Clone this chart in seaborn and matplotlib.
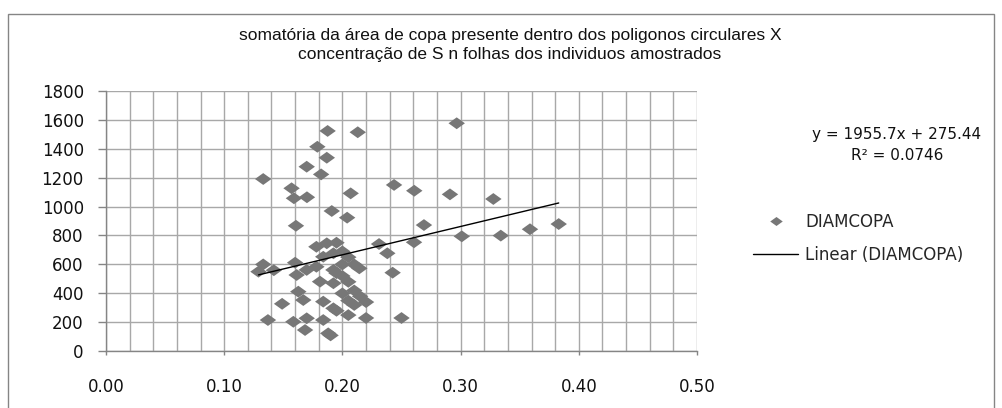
import matplotlib
matplotlib.use("Agg")
import matplotlib.pyplot as plt
from matplotlib.lines import Line2D
from matplotlib.patches import Rectangle
from matplotlib.path import Path
from matplotlib.ticker import MultipleLocator, FormatStrFormatter
import seaborn as sns
import pandas as pd
import numpy as np

# ---- data ----
conc_s = [0.133, 0.129, 0.133, 0.142, 0.149, 0.137, 0.1875, 0.1788, 0.1868, 0.1698,
          0.182, 0.157, 0.159, 0.170, 0.191, 0.1607, 0.213, 0.2437, 0.2608, 0.207,
          0.291, 0.204, 0.269, 0.301, 0.2606, 0.231, 0.238, 0.2143, 0.2425, 0.2967,
          0.3277, 0.334, 0.3587, 0.383, 0.160, 0.1613, 0.178, 0.1868, 0.1924, 0.1838,
          0.178, 0.1698, 0.1924, 0.1811, 0.1924, 0.1627, 0.1669, 0.1838, 0.1924, 0.1585,
          0.1698, 0.1684, 0.1838, 0.188,
          0.195, 0.200, 0.205, 0.200, 0.195, 0.210, 0.200, 0.205, 0.210, 0.200,
          0.215, 0.205, 0.220, 0.210, 0.205, 0.220, 0.250, 0.195, 0.190]
diamcopa = [1190, 550, 600, 560, 328, 216, 1522, 1413, 1337, 1275,
            1222, 1126, 1057, 1064, 969, 867, 1513, 1149, 1109, 1091,
            1084, 923, 872, 794, 753, 741, 677, 573, 543, 1575,
            1052, 799, 843, 879, 612, 527, 722, 746, 677, 653,
            584, 562, 562, 481, 470, 412, 354, 343, 297, 204,
            228, 147, 216, 124,
            750, 690, 650, 600, 540, 600, 520, 480, 420, 400,
            380, 350, 340, 320, 250, 230, 230, 280, 110]

slope = 1955.7
intercept = 275.44
r2 = 0.0746

title_lines = ["somatória da área de copa presente dentro dos poligonos circulares X",
               "concentração de S n folhas dos individuos amostrados"]
series_name = "DIAMCOPA"
trend_name = "Linear (DIAMCOPA)"
x_ticks = [0.0, 0.1, 0.2, 0.3, 0.4, 0.5]
y_ticks = [0, 200, 400, 600, 800, 1000, 1200, 1400, 1600, 1800]

df = pd.DataFrame({"S": conc_s, "DIAMCOPA": diamcopa})
x_ends = [min(conc_s), max(conc_s)]
trend = pd.DataFrame({"S": x_ends, "fit": [slope * v + intercept for v in x_ends]})

sns.set_style("white")
plt.rcParams["font.family"] = ["DejaVu Sans"]

fig = plt.figure(figsize=(10.02, 4.08), dpi=100)
ax = fig.add_axes([106 / 1002, 1 - 351.3 / 408, (697 - 106) / 1002, (351.3 - 90.7) / 408])

diamond = Path([(-1, 0), (0, 0.72), (1, 0), (0, -0.72), (-1, 0)],
               [Path.MOVETO, Path.LINETO, Path.LINETO, Path.LINETO, Path.CLOSEPOLY])
gray = "#777777"

sns.scatterplot(data=df, x="S", y="DIAMCOPA", ax=ax, marker=diamond, s=140,
                color=gray, edgecolor="none", zorder=3, legend=False)
sns.lineplot(data=trend, x="S", y="fit", ax=ax, color="black", linewidth=1.0,
             zorder=4, legend=False)

ax.set_xlim(x_ticks[0], x_ticks[-1])
ax.set_ylim(y_ticks[0], y_ticks[-1])
ax.set_xticks(x_ticks)
ax.set_yticks(y_ticks)
ax.xaxis.set_major_formatter(FormatStrFormatter("%.2f"))
ax.xaxis.set_minor_locator(MultipleLocator(0.02))
ax.set_xlabel("")
ax.set_ylabel("")

gridc = "#a8a8a8"
ax.grid(False)
ax.xaxis.grid(True, which="both", color=gridc, linewidth=1.0)
ax.yaxis.grid(True, which="major", color=gridc, linewidth=1.0)
ax.set_axisbelow(True)

for s in ["top", "right"]:
    ax.spines[s].set_visible(False)
for s in ["left", "bottom"]:
    ax.spines[s].set_color("#858585")
    ax.spines[s].set_linewidth(1.0)

ax.tick_params(axis="y", which="major", direction="out", length=6, width=1,
               color="#858585", pad=10, labelsize=12, labelcolor="#111111", left=True)
ax.tick_params(axis="x", which="major", direction="out", length=3, width=1,
               color="#858585", pad=16, labelsize=12, labelcolor="#111111", bottom=True)
ax.tick_params(axis="x", which="minor", length=0)

# title
fig.text(510 / 1002, 1 - 45 / 408, "\n".join(title_lines), ha="center", va="center",
         fontsize=12.5, family="Liberation Sans", color="#111111", linespacing=1.4)

# trendline equation
fig.text(897 / 1002, 1 - 144.5 / 408, f"y = {slope}x + {intercept}\nR² = {r2}",
         ha="center", va="center", fontsize=11, color="#111111", linespacing=1.5)

# legend
handles = [Line2D([], [], linestyle="none", marker=diamond, markersize=9,
                  markerfacecolor=gray, markeredgecolor="none"),
           Line2D([], [], color="black", linewidth=1.0)]
ax.legend(handles, [series_name, trend_name], loc="upper left",
          bbox_to_anchor=(753 / 1002, 1 - 213 / 408), bbox_transform=fig.transFigure,
          frameon=False, fontsize=12, handlelength=2.7, handletextpad=0.42,
          labelspacing=0.9, borderpad=0, borderaxespad=0)

# chart-area border
fig.patches.append(Rectangle((8 / 1002, -0.05), (994 - 8) / 1002, 1.05 - 14 / 408,
                             transform=fig.transFigure, fill=False,
                             edgecolor="#858585", linewidth=1.0))

fig.savefig("out.png", dpi=100)
